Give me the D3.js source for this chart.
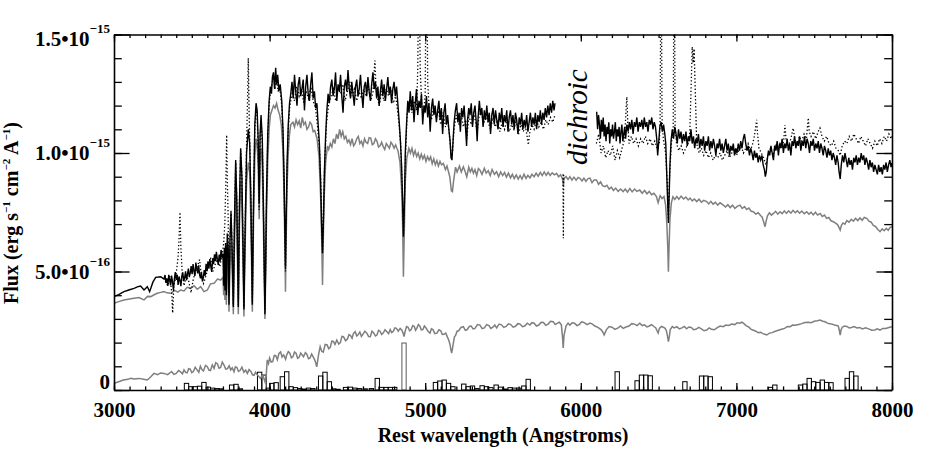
<!DOCTYPE html>
<html><head><meta charset="utf-8">
<script src="https://cdn.jsdelivr.net/npm/d3@7"></script>
<style>
html,body{margin:0;padding:0;background:#fff;}
svg{display:block;}
</style></head><body>
<svg id="chart" width="926" height="463"></svg>
<script>
// flux values are in units of 1e-17 erg s^-1 cm^-2 A^-1
const FLUX_UNIT = 1e-17;

// observed spectrum (solid black), blue arm
const obsBlue = [[3000,39.4],[3030,40.2],[3064,41.5],[3100,42.3],[3129,42.9],[3150,43.5],[3171,43.9],[3193,42.2],[3214,43.6],[3229,41.5],[3250,45.5],[3268,47.5],[3300,47.8],[3321,46.8],
[3328,48.5],[3334,45.2],[3340,47.1],[3346,43.9],[3352,48.6],[3358,46.1],[3364,44.2],[3370,48.3],[3376,45.6],[3382,42.1],[3388,46.9],[3394,49.8],[3400,46.5],[3406,48.7],[3412,44.3],[3418,47.9],[3424,46.2],[3430,43.8],[3436,48.2],[3442,49.6],[3448,45.9],[3454,47.4],[3460,50.1],[3466,46.3],[3472,48.8],[3478,51.2],[3484,47.6],[3490,49.4],[3496,52.3],[3502,48.9],[3508,53.1],[3514,50.2],[3520,48.1],[3526,53.8],[3532,51.4],[3538,49.2],[3544,52.6],[3550,48.7],[3556,47.1],[3562,49.9],[3568,45.8],[3574,47.3],[3580,50.6],[3586,48.2],[3592,53.2],[3598,50.1],[3604,54.3],[3610,51.2],[3616,55.1],[3622,52.3],[3628,49.8],[3634,55.6],[3640,53.1],[3646,57.2],[3652,54.4],[3658,58.3],[3664,55.2],[3670,52.8],[3676,57.1],[3682,54.2],[3688,59.1],[3694,55.8],[3700,57.5],
[3705,44],[3709,60],[3713,42],[3717,62],[3722,40],[3728,66],[3734,60],[3739,36],[3745,62],[3752,75],[3759,60],[3767,35],[3774,70],[3782,97],[3790,78],[3799,35],[3806,78],[3814,102],[3822,90],[3829,62],[3835,34],[3842,65],[3852,100],[3863,110],[3872,104],[3880,80],[3889,36],[3897,82],[3905,112],[3913,121],[3920,118],[3927,105],[3933,79],[3939,108],[3945,116],[3953,106],[3960,80],[3966,50],[3970,32],[3974,50],[3980,82],[3988,108],[3997,122],[4005,128],[4012,125],[4018,132],[4025,134],[4032,127],[4039,136],[4045,129],[4052,133],[4060,126],[4068,129],[4078,122],[4086,110],[4093,90],[4098,68],[4102,52],[4106,70],[4112,95],[4120,112],[4128,121],
[4136,125],[4144,130],[4152,123],[4160,133],[4168,126],[4176,120],[4184,129],[4192,132],[4200,124],[4208,127],[4216,131],[4224,118],[4232,128],[4240,133],[4248,125],[4256,122],[4264,129],[4272,134],[4280,123],[4288,126],[4296,119],[4304,121],[4312,112],[4320,104],[4328,88],[4334,70],[4340,57.7],[4346,72],[4352,92],[4360,107],[4368,118],[4376,125],[4384,121],[4392,128],[4400,131],[4408,124],[4416,127],[4424,134],[4432,122],[4440,129],[4448,126],[4456,133],[4464,124],[4472,117],[4480,128],[4488,131],[4496,126],[4504,135],[4512,127],[4520,123],[4528,130],[4536,125],[4544,120],[4552,128],[4560,131],[4568,124],[4576,127],[4584,133],[4592,125],[4600,119],[4608,128],[4616,130],[4624,124],[4632,132],[4640,126],[4648,122],[4656,129],[4664,134],[4672,127],[4680,130],[4688,123],[4696,128],[4704,120],[4712,126],[4720,131],[4728,124],[4736,129],[4744,122],[4752,127],[4760,132],[4768,125],[4776,128],[4784,121],[4792,127],[4800,130],[4808,124],[4816,128],[4824,121],[4832,114],[4840,106],[4848,95],[4855,80],[4860,64.7],[4866,78],[4872,100],[4880,112],[4888,122],[4896,117],
[4904,126],[4912,118],[4920,124],[4928,113],[4936,121],[4944,127],[4952,116],[4960,122],[4968,119],[4976,125],[4984,112],[4992,120],[5000,117],[5008,124],[5016,115],[5024,121],[5032,109],[5040,119],[5048,123],[5056,116],[5064,120],[5072,113],[5080,118],[5088,122],[5096,114],[5104,119],[5112,108],[5120,117],[5128,121],[5136,112],[5144,116],[5152,110],[5160,105],[5166,98],[5172,97],[5178,104],[5186,113],[5194,118],[5202,121],[5210,113],[5218,117],[5226,109],[5234,119],[5242,115],[5250,120],[5258,112],[5266,103],[5272,114],[5280,119],[5288,116],[5296,121],[5304,111],[5312,117],[5320,120],[5328,113],[5334,105],[5340,115],[5348,122],[5356,116],[5364,119],[5372,111],[5380,118],[5388,114],[5396,120],[5404,113],[5412,117],[5420,108],[5428,116],[5436,119],[5444,112],[5452,118],[5460,114],[5468,110],[5476,117],[5484,113],[5492,119],[5500,111],[5508,116],[5516,113],[5524,118],[5532,109],[5540,115],[5548,118],[5556,112],[5564,116],[5572,110],[5580,117],[5588,114],[5596,108],[5604,115],[5612,112],[5620,117],[5628,110],[5636,114],[5644,111],[5652,116],[5660,109],[5668,113],[5676,117],[5684,111],[5692,115],[5700,112],[5708,117],[5716,110],[5724,116],[5732,113],[5740,118],[5748,112],[5756,117],[5764,114],[5772,119],[5780,115],[5788,120],[5796,116],[5804,121],[5812,117],[5820,122],[5828,118],[5834,121]];

// observed spectrum (solid black), red arm
const obsRed = [[6102,117.4],[6108,110],[6114,116],[6120,112],[6126,106],[6132,114],[6138,109],[6144,115],[6150,107],[6156,112],[6162,105],[6168,111],[6174,108],[6180,113],[6186,104],[6192,110],[6198,107],[6204,112],[6210,106],[6216,109],[6222,113],[6228,105],[6234,110],[6240,107],[6246,111],[6252,104],[6258,109],[6264,112],[6270,105],[6276,108],[6282,111],[6288,106],[6296,112],[6304,109],[6312,113],[6320,110],[6328,114],[6336,108],[6344,113],[6352,111],[6360,115],[6368,109],[6376,113],[6384,111],[6392,114],[6400,110],[6408,115],[6416,111],[6424,113],[6432,109],[6440,114],[6448,112],[6456,115],[6464,110],[6472,113],[6480,111],[6488,106],[6494,99],[6500,104],[6508,111],[6516,113],[6524,109],[6532,112],[6540,108],[6546,104],[6553,90],[6559,78],[6563,70.5],[6567,80],[6573,95],[6580,105],[6588,110],[6596,106],[6604,111],[6612,108],[6620,104],[6628,110],[6636,106],[6644,109],[6652,104],[6660,108],[6668,105],[6676,109],[6684,103],[6692,107],[6700,105],[6708,110],[6716,104],[6724,107],[6732,102],[6740,106],[6748,104],[6756,108],[6764,102],[6772,106],[6780,103],[6788,107],[6796,101],[6804,105],[6812,103],[6820,107],[6828,101],[6836,105],[6844,102],[6852,106],[6860,103],[6868,99],[6876,104],[6884,102],[6892,106],[6900,101],[6908,104],[6916,100],[6924,103],[6932,106],[6940,101],[6948,104],[6956,99],[6964,103],[6972,101],[6980,104],[6988,99],[6996,102],[7004,100],[7012,104],[7020,101],[7028,105],[7036,102],[7044,106],[7052,108],[7060,104],[7068,101],[7076,103],[7084,99],[7092,102],[7100,100],[7108,97],[7116,101],[7124,98],[7132,100],[7140,96],[7148,99],[7156,97],[7164,99],[7172,95],[7180,93],[7186,90],[7192,92],[7198,97],[7206,101],[7214,99],[7222,103],[7230,100],[7238,97],[7246,103],[7254,101],[7262,105],[7270,99],[7278,104],[7286,102],[7294,106],[7302,100],[7310,104],[7318,102],[7326,106],[7334,101],[7342,104],[7350,99],[7358,105],[7366,103],[7374,107],[7382,102],[7390,105],[7398,103],[7406,107],[7414,101],[7422,105],[7430,103],[7438,107],[7446,102],[7454,106],[7462,104],[7470,100],[7478,105],[7486,103],[7494,106],[7502,101],[7510,104],[7518,102],[7526,105],[7534,100],[7542,104],[7550,102],[7558,99],[7566,103],[7574,101],[7582,98],[7590,102],[7598,99],[7606,101],[7614,97],[7622,100],[7630,98],[7638,95],[7646,99],[7654,96],[7660,92],[7667,89],[7674,95],[7682,99],[7690,96],[7698,100],[7706,97],[7714,94],[7722,98],[7730,95],[7738,97],[7746,93],[7754,98],[7762,96],[7770,99],[7778,95],[7786,98],[7794,96],[7802,100],[7810,97],[7818,99],[7826,95],[7834,98],[7842,96],[7850,93],[7858,97],[7866,94],[7874,96],[7882,92],[7890,95],[7898,93],[7906,91],[7914,95],[7922,92],[7930,94],[7938,91],[7946,95],[7954,93],[7962,96],[7970,92],[7978,95],[7986,97],[7994,94],[8000,95.8]];

// second observation (dotted black); null marks a gap
const altSpec = [[3330,46],[3345,44],[3360,48],[3372,40],[3377,32.5],[3384,44],[3395,47],[3405,52],[3412,56],[3418,64],[3424,75],[3430,60],[3438,50],[3450,44],[3465,48],[3480,46],[3495,41],[3510,47],[3525,50],[3540,53],[3550,55],[3560,49],[3575,45],[3590,48],[3605,52],[3620,56],[3635,50],[3650,53],[3665,55],[3680,52],[3695,57],[3705,62],[3712,70],[3718,85],[3724,107.6],[3728,90],[3734,72],[3739,40],[3745,62],[3752,76],[3759,60],[3767,36],[3774,70],[3782,96],[3790,79],[3799,36],[3806,78],[3814,101],[3822,90],[3829,62],[3835,35],[3842,66],[3852,104],[3858,122],[3863,140],[3868,118],[3874,100],[3880,80],[3889,37],[3897,80],[3905,110],[3913,118],[3920,116],[3927,100],[3933,76],[3939,106],[3945,114],[3953,104],[3960,78],[3966,50],[3970,34],[3974,50],[3980,80],[3988,106],[3997,120],[4005,126],[4015,129],[4025,132],[4035,127],[4045,131],[4055,126],[4065,128],[4078,120],[4086,108],[4093,88],[4098,66],[4102,50],[4106,68],[4112,92],[4120,110],[4130,120],[4145,125],[4160,122],[4175,128],[4190,124],[4205,127],[4220,121],[4235,126],[4250,123],[4265,128],[4280,122],[4295,119],[4310,110],[4322,100],[4332,82],[4340,58],[4346,72],[4354,95],[4365,112],[4380,121],[4395,124],[4410,127],[4425,122],[4440,128],[4455,125],[4470,129],[4485,122],[4500,126],[4515,130],[4530,124],[4545,127],[4560,122],[4575,126],[4590,123],[4605,127],[4620,124],[4635,128],[4650,122],[4665,126],[4672,134],[4677,139],[4682,130],[4690,124],[4705,120],[4720,126],[4735,122],[4750,127],[4765,124],[4780,126],[4795,121],[4810,124],[4822,118],[4832,112],[4842,104],[4850,90],[4856,76],[4861,66],[4866,78],[4874,100],[4884,116],[4895,121],[4905,120],[4915,117],[4930,122],[4945,118],[4952,135],[4960,185],[4968,135],[4978,120],[4990,116],[5000,125],[5008,200],[5016,130],[5026,118],[5040,114],[5055,120],[5070,115],[5085,118],[5100,112],[5115,117],[5130,111],[5145,114],[5158,106],[5168,99],[5175,100],[5185,110],[5200,116],[5215,112],[5230,117],[5245,111],[5260,114],[5268,106],[5280,116],[5295,112],[5310,117],[5325,113],[5333,108],[5345,115],[5360,118],[5375,112],[5390,116],[5405,113],[5420,110],[5435,115],[5450,111],[5465,114],[5480,109],[5495,113],[5510,110],[5525,114],[5540,109],[5555,112],[5570,110],[5585,114],[5600,108],[5615,112],[5630,109],[5645,111],[5655,107],[5663,103.4],[5670,108],[5685,112],[5700,110],[5715,114],[5730,111],[5745,113],[5760,110],[5775,114],[5790,112],[5805,115],[5820,113],[5834,116],
[5860,null],[5886,91],[5888,64],[5890,91],[5990,null],
[6100,104],[6115,108],[6130,100],[6145,103],[6160,98],[6175,101],[6190,99],[6205,103],[6220,97],[6235,101],[6250,98],[6265,102],[6278,105],[6286,112],[6292,120],[6296,123.7],[6302,112],[6310,104],[6325,107],[6340,104],[6355,106],[6370,103],[6385,106],[6400,104],[6415,107],[6430,104],[6445,106],[6460,103],[6475,105],[6490,102],[6505,104],[6510,115],[6516,200],[6522,115],[6530,106],[6545,100],[6555,88],[6563,72],[6570,90],[6582,104],[6594,110],[6600,200],[6606,112],[6615,104],[6630,101],[6645,103],[6660,100],[6675,102],[6690,104],[6700,108],[6710,130],[6716,144.8],[6722,138],[6728,144],[6736,125],[6745,104],[6760,100],[6775,102],[6790,99],[6805,101],[6820,98],[6835,100],[6850,97],[6865,99],[6880,98],[6895,100],[6910,97],[6925,99],[6940,101],[6955,98],[6970,100],[6985,102],[7000,99],[7015,101],[7030,103],[7045,100],[7060,102],[7075,104],[7090,101],[7105,104],[7115,107],[7124,111],[7130,114],[7136,108],[7145,102],[7160,100],[7175,98],[7190,95],[7205,100],[7220,102],[7235,99],[7250,103],[7265,101],[7280,104],[7295,102],[7305,106],[7312,111.8],[7320,105],[7335,103],[7350,106],[7365,110.5],[7375,106],[7390,103],[7405,107],[7420,105],[7435,108],[7450,106],[7458,112],[7462,114.8],[7468,109],[7480,107],[7495,109],[7510,106],[7525,109],[7537,110.5],[7550,107],[7565,105],[7580,107],[7595,104],[7610,103],[7625,105],[7640,102],[7655,101],[7667,99],[7680,103],[7695,105],[7710,104],[7725,107],[7740,105],[7755,108],[7770,106],[7785,104],[7800,107],[7815,105],[7830,103],[7845,106],[7860,104],[7875,102],[7890,105],[7905,103],[7920,106],[7935,104],[7950,107],[7965,105],[7980,108],[7995,106],[8000,107]];

// total model fit (upper grey)
const modelTotal = [[3000,36.6],[3030,37.3],[3064,38],[3100,38.4],[3129,38.7],[3160,39],[3193,38],[3215,39.5],[3236,39.4],[3258,40.2],[3278,40.8],[3300,41.2],[3321,41.5],[3340,41],[3364,40.8],[3390,42],[3410,41.3],[3428,42.2],[3450,41.8],[3470,43.3],[3493,42.9],[3515,44],[3535,42.5],[3557,43.6],[3578,41.5],[3600,42.2],[3620,44.8],[3643,45],[3665,46.8],[3685,46.4],[3700,47.5],
[3705,40],[3709,50],[3713,38],[3717,52],[3722,36],[3728,55],[3734,50],[3739,33],[3745,52],[3752,62],[3759,52],[3767,32],[3774,60],[3782,82],[3790,68],[3799,32],[3806,68],[3814,88],[3822,78],[3829,55],[3835,31],[3842,58],[3852,88],[3863,96],[3872,92],[3880,70],[3889,33],[3897,72],[3905,98],[3913,106],[3920,104],[3927,93],[3933,72],[3939,96],[3945,102],[3953,94],[3960,70],[3966,45],[3970,30],[3974,45],[3980,72],[3988,96],[3997,110],[4005,116],[4015,118],[4025,120],[4035,119],[4045,121],[4055,118],[4065,116],[4075,112],[4085,102],[4093,82],[4098,62],[4102,41.5],[4106,62],[4112,85],[4120,100],[4128,108],[4136,112],
[4150,113],[4160,111],[4170,114],[4180,112],[4190,113.5],[4200,110.5],[4210,115],[4220,112],[4230,113],[4240,110],[4250,111],[4260,113],[4270,112],[4280,109],[4290,109.5],[4305,106],[4318,98],[4330,78],[4336,60],[4340,44.3],[4344,60],[4350,80],[4360,96],[4372,103],[4380,101.5],[4390,104],[4400,102.5],[4410,106],[4420,104],[4430,108],[4440,106],[4450,110],[4460,107],[4470,109],[4480,106],[4490,107],[4500,104.5],[4510,105.5],[4520,103.5],[4530,106],[4540,103],[4550,104],[4560,106],[4570,107],[4580,104],[4590,105],[4600,103],[4610,106],[4620,104.5],[4630,104],[4640,106.5],[4650,106.3],[4660,103.5],[4670,104],[4680,106],[4690,105],[4700,102.5],[4710,103],[4720,104.5],[4730,102.7],[4740,101.5],[4750,104],[4760,103],[4770,102],[4780,104.5],[4790,103.5],[4800,102],[4810,103.4],[4818,102],[4825,101],[4838,96],[4848,85],[4855,70],[4860,47.8],[4866,68],[4872,88],[4882,98],[4895,102],[4905,100],[4915,102],[4925,99],[4935,101],[4945,98.5],[4955,100],[4965,97.5],[4975,99.5],[4985,97.5],[4995,99],[5005,96.5],[5015,98.5],[5025,97],[5035,98.4],[5045,95.5],[5055,97.5],[5065,95],[5075,96.8],[5085,94.5],[5095,96.5],[5105,95],[5117,95.6],[5130,93],[5140,94.5],[5150,92],[5158,90],[5168,84],[5175,83.7],[5182,88],[5195,94],[5205,92],[5220,94.5],[5232,92],[5245,94.2],[5255,92.5],[5267,90],[5280,94],[5290,92],[5300,93.5],[5310,91.5],[5320,93],[5331,90.5],[5342,93.5],[5352,92.8],[5365,91],[5380,93.5],[5392,91.5],[5405,92.5],[5418,90.5],[5430,93],[5445,91],[5459,92.1],[5472,90],[5485,92],[5498,90.5],[5510,91.8],[5522,89.8],[5535,91.5],[5548,89.5],[5560,91],[5572,89.2],[5585,90.8],[5598,89],[5610,90.5],[5622,89],[5635,91],[5648,89.3],[5660,90.6],[5673,89.5],[5686,91],[5700,90],[5713,91.5],[5726,90.2],[5740,91.8],[5752,90.5],[5765,92],[5778,90.6],[5790,91.8],[5803,90.5],[5816,91.6],[5830,90.8],[5844,91.4],[5857,90],[5870,90.8],[5880,89.5],[5885,88],[5888,86],[5892,89.3],[5905,90],[5918,88.8],[5930,90],[5943,88.6],[5956,89.8],[5970,88.5],[5983,89.7],[5994,89.3],[6008,88.2],[6020,89.4],[6033,88],[6046,89.2],[6059,89.4],[6072,87.5],[6085,88.6],[6101,88.6],[6114,86.8],[6127,87.8],[6140,86.2],[6155,85.8],[6168,86.4],[6182,84.8],[6196,85.6],[6210,84.2],[6224,85.2],[6240,83.8],[6256,84.8],[6272,83.7],[6286,84.8],[6300,83.5],[6315,85],[6330,83.6],[6345,84.8],[6360,83.8],[6379,84.4],[6394,83],[6410,84.2],[6425,82.8],[6440,83.8],[6455,82.4],[6470,83],[6486,81.6],[6497,79],[6510,82],[6522,80.8],[6535,81.6],[6545,78],[6553,70],[6559,60],[6563,49.9],[6567,60],[6573,72],[6582,79],[6592,81.5],[6604,80.4],[6617,81.6],[6630,80.5],[6645,81.8],[6660,80.6],[6675,81.4],[6690,80.2],[6702,81],[6716,79.8],[6730,80.6],[6745,79.5],[6760,80.5],[6775,79.2],[6790,80],[6809,79.5],[6822,78.5],[6836,79.6],[6850,78.4],[6865,79.2],[6880,78],[6895,79],[6916,78],[6930,77.2],[6945,78.2],[6960,77],[6975,78],[6990,76.6],[7005,77.5],[7023,78],[7037,76.6],[7052,77.4],[7066,76.2],[7080,76.8],[7095,75.4],[7109,75.2],[7124,74.2],[7140,74.8],[7155,73.6],[7165,73],[7175,71],[7184,68.9],[7192,71.5],[7200,73.5],[7212,74.8],[7225,73.8],[7238,74.5],[7252,75.4],[7266,74.2],[7280,75.2],[7294,74.4],[7308,75.6],[7322,74.5],[7336,75.6],[7350,74.6],[7364,75.8],[7378,74.8],[7392,75.6],[7406,74.6],[7420,75.5],[7436,74.4],[7452,75.2],[7466,74.2],[7480,75],[7494,73.9],[7508,75],[7522,73.8],[7538,74.5],[7552,73.2],[7566,73.8],[7580,72.4],[7594,72.8],[7608,71.4],[7623,71],[7637,70.4],[7650,69.8],[7660,68.5],[7667,67.5],[7675,69.5],[7685,70.5],[7697,70],[7710,71.5],[7724,70.8],[7738,72],[7752,71.2],[7766,72.4],[7780,71.5],[7794,72.6],[7808,71.6],[7822,72.8],[7838,72.4],[7852,71.2],[7866,70.8],[7880,69.4],[7894,69],[7908,67.8],[7923,66.8],[7937,68],[7950,67.2],[7963,68.2],[7976,67.4],[7988,68.6],[8000,68.9]];

// model component (lower grey)
const modelComp = [[3000,2.8],[3030,3.5],[3060,4.2],[3090,4.5],[3107,4.9],[3130,4.6],[3160,4.9],[3190,4.5],[3214,4.2],[3235,5.5],[3257,7],[3280,6.5],[3300,7.2],[3321,7],[3345,6.5],[3370,7.8],[3385,6.6],[3400,7],[3415,8.2],[3428,7.7],[3440,6.8],[3450,8.5],[3460,7.4],[3470,7.2],[3480,9],[3490,8.8],[3500,7.3],[3510,7.8],[3522,9.6],[3535,8.4],[3545,7.5],[3555,10],[3565,8.6],[3575,8],[3588,10.4],[3600,9.8],[3610,8.4],[3620,8.2],[3632,10.6],[3643,9.1],[3654,11.5],[3665,11],[3675,9.2],[3685,9.5],[3696,11.8],[3707,10.5],[3718,8.8],[3730,9],[3740,10.2],[3750,8.5],[3760,9.4],[3771,7.7],[3780,9.8],[3790,9.5],[3800,7.8],[3810,8.2],[3822,9.6],[3835,7.5],[3846,8.4],[3857,7],[3868,8.6],[3880,7.8],[3890,6.4],[3900,6.2],[3910,7.5],[3920,6.5],[3932,5.6],[3942,4.9],[3952,6.2],[3960,5.5],[3970,3.5],[3978,6],[3985,12.7],[3993,11.2],[4000,13.5],[4010,11.8],[4020,12],[4030,14.6],[4040,14.5],[4050,12.8],[4060,15.4],[4071,16.1],[4080,13.9],[4090,14.8],[4103,13],[4110,14.8],[4120,16.2],[4130,15.5],[4140,13.6],[4150,14],[4160,16],[4170,15.5],[4180,13.4],[4190,13.8],[4200,15.6],[4218,14],[4230,15.8],[4240,15],[4250,13.2],[4260,13.5],[4270,15.2],[4280,14],[4292,12.4],[4303,9.8],[4315,15],[4325,18.3],[4335,16.4],[4345,16],[4357,19.2],[4370,19],[4380,17.4],[4390,18],[4400,20.6],[4410,20.5],[4420,19.2],[4432,21.1],[4444,19.4],[4455,20],[4465,22.6],[4475,22.5],[4488,20.8],[4500,21.5],[4510,23.4],[4520,23],[4530,21.8],[4539,23.9],[4550,24.6],[4560,22.8],[4570,23.4],[4580,24.5],[4590,22.6],[4600,23.5],[4612,24.8],[4625,24],[4636,22.6],[4647,22.5],[4658,24.8],[4670,24],[4680,22.8],[4690,23.2],[4700,25.2],[4710,24.8],[4720,23.4],[4730,24],[4742,25.4],[4754,24.6],[4765,23.8],[4775,25.5],[4785,24.2],[4795,24.8],[4805,26.2],[4815,26],[4827,24.8],[4839,26],[4850,25.2],[4858,24],[4864,22.5],[4872,25],[4880,26.8],[4890,26.5],[4900,25],[4910,25.5],[4920,27.2],[4930,26.8],[4938,25.2],[4946,26],[4956,27.6],[4965,27],[4975,25.4],[4985,25.5],[4995,27],[5005,26.2],[5018,24.8],[5031,24],[5040,25.8],[5050,25.5],[5062,23.8],[5075,24],[5088,25.4],[5100,25],[5110,23.4],[5120,23.5],[5132,24],[5145,22],[5153,20.8],[5160,19],[5165,17],[5170,15.6],[5175,17.4],[5180,19.5],[5188,22.4],[5195,23],[5205,24.8],[5215,25],[5230,26.4],[5245,26.7],[5258,25.2],[5270,25.5],[5283,26.8],[5295,27],[5308,25.8],[5320,26],[5336,27.6],[5352,27.4],[5366,25.9],[5380,26.2],[5395,27.6],[5410,27.2],[5422,26],[5435,26.5],[5447,27.4],[5459,26.2],[5475,27.8],[5490,27.5],[5505,26.4],[5520,26.8],[5535,27.9],[5550,27.6],[5565,26.5],[5580,26.9],[5595,28],[5610,27.8],[5625,26.7],[5640,27],[5656,28.2],[5673,27.4],[5686,28.4],[5700,28.2],[5715,27],[5730,27.4],[5745,28.6],[5760,28.5],[5775,27.3],[5790,27.8],[5806,29],[5823,28.8],[5836,27.6],[5850,28.2],[5862,28.6],[5875,27.5],[5883,22],[5887,17.7],[5892,23],[5905,27],[5918,28.2],[5930,27.4],[5945,28.4],[5960,28.2],[5975,27.2],[5990,27.6],[6005,28.8],[6020,28.5],[6040,27.6],[6059,28.2],[6075,27.8],[6090,27],[6110,26.4],[6130,25.5],[6140,24.6],[6150,23.2],[6158,24.4],[6165,25.5],[6182,26.8],[6200,26.5],[6220,25.6],[6240,26.2],[6256,27],[6272,26],[6290,26.6],[6310,27],[6328,28],[6345,27.8],[6362,27.2],[6379,28.2],[6395,27.2],[6410,27.5],[6425,26.6],[6440,27],[6455,27.6],[6470,26.8],[6482,26.2],[6490,25],[6497,24],[6505,26],[6518,26.8],[6530,26.5],[6542,26],[6550,25],[6557,22.8],[6563,20.4],[6569,22.6],[6575,25.5],[6588,26.8],[6600,26.2],[6617,26.7],[6633,25.8],[6650,26.2],[6665,26.8],[6680,25.8],[6695,26.6],[6710,26.4],[6725,25.4],[6740,25.6],[6758,26.4],[6775,25.8],[6792,25],[6809,25.3],[6825,26.2],[6840,25.6],[6858,25.4],[6875,26.2],[6895,27],[6916,26.7],[6932,27.4],[6950,27.2],[6970,27.8],[6990,27.6],[7005,28.4],[7023,28.2],[7035,28.6],[7045,28.2],[7062,27.2],[7080,26.5],[7095,25.6],[7110,25.2],[7125,24.8],[7140,24.2],[7155,24.4],[7170,23.8],[7183,23.5],[7195,23.2],[7212,24],[7230,24.2],[7250,24.8],[7270,25.2],[7290,25.6],[7310,26],[7328,26.8],[7345,26.7],[7362,27.4],[7380,27.3],[7400,27.6],[7420,28],[7440,28.5],[7460,28.6],[7480,28.4],[7500,29],[7520,29.2],[7538,29.5],[7555,29],[7570,28.8],[7585,28.2],[7600,28],[7615,27.8],[7630,27.4],[7645,27.2],[7655,27],[7662,25],[7667,23.2],[7672,25.2],[7680,26.5],[7695,27],[7710,26.8],[7725,26.2],[7740,26.4],[7757,26.8],[7774,26.2],[7792,26.4],[7810,25.8],[7830,26.2],[7850,25.8],[7870,25.2],[7890,25.3],[7905,25.8],[7923,25.3],[7940,26],[7960,26],[7980,26.4],[8000,26.7]];

// residual histogram bins (left edge in Angstroms, height in flux units)
const BIN_WIDTH = 28;
const barStart  = [3452,3480,3508,3536,3564,3592,3620,3648,3676,3742,3770,3798,3922,3950,3978,4000,4028,4068,4096,4124,4152,4180,4208,4236,4264,4314,4342,4370,4398,4426,4474,4506,4534,4562,4600,4640,4678,4706,4734,4762,4790,5052,5080,5108,5136,5164,5234,5262,5290,5318,5352,5380,5408,5442,5470,5500,5532,5560,5588,5620,5648,6220,6348,6376,6404,6432,6655,6762,6790,6818,7205,7233,7398,7426,7454,7482,7510,7538,7566,7594,7698,7726,7754];
const barHeight = [2.8,1.4,1.4,1.6,3.2,1.2,0.8,0.6,0.5,2.1,2.4,0.5,7.5,6.3,0.8,2.8,3.1,5.6,7.7,1.4,1.0,0.6,0.4,0.8,0.6,5.9,7.5,3.5,0.5,0.3,1.1,1.2,0.8,0.6,0.5,0.6,4.9,1.1,1.1,1.1,1.1,3.2,3.8,4.2,2.8,1.4,2.5,1.4,1.7,0.6,1.8,1.4,1.0,2.1,1.2,0.4,1.0,0.8,0.8,1.7,4.5,7.7,3.9,6.3,6.3,6.0,3.5,5.9,5.9,5.6,1.1,2.1,2.1,2.5,4.9,3.5,3.2,4.2,3.2,3.1,4.9,7.7,5.9];
const greyBars  = [[4850,19.8]];

// axis ticks and labels
const xMajor = [3000,4000,5000,6000,7000,8000];
const xMinor = d3.range(3000,8001,100);
const yMajor = [0,5e-16,1e-15,1.5e-15];
const yMinor = d3.range(0,16).map(i=>i*1e-16);
const yTickMantissa = ["0","5.0\u202210","1.0\u202210","1.5\u202210"];
const yTickExponent = ["","\u221216","\u221215","\u221215"];

const FONT = "'Liberation Serif','Times New Roman',serif";
const GREY = "#7f7f7f";
const svg = d3.select("#chart");
const M = {left:114,right:892,top:34.5,bottom:390};
const x = d3.scaleLinear().domain([3000,8000]).range([M.left,M.right]);
const y = d3.scaleLinear().domain([0,1.5e-15]).range([M.bottom,M.top]);
const line = d3.line().defined(d=>d[1]!=null).x(d=>x(d[0])).y(d=>y(d[1]*FLUX_UNIT));

svg.append("defs").append("clipPath").attr("id","clip").append("rect")
  .attr("x",M.left).attr("y",M.top).attr("width",M.right-M.left).attr("height",M.bottom-M.top);
const g = svg.append("g").attr("clip-path","url(#clip)");

// histogram
g.selectAll("rect.bar").data(barStart.map((s,i)=>[s,barHeight[i]])).join("rect")
  .attr("class","bar")
  .attr("x",d=>x(d[0])).attr("width",d=>x(d[0]+BIN_WIDTH)-x(d[0]))
  .attr("y",d=>y(d[1]*FLUX_UNIT)).attr("height",d=>y(0)-y(d[1]*FLUX_UNIT))
  .attr("fill","none").attr("stroke","#000").attr("stroke-width",1);
g.selectAll("rect.gbar").data(greyBars).join("rect")
  .attr("class","gbar")
  .attr("x",d=>x(d[0])).attr("width",d=>x(d[0]+BIN_WIDTH)-x(d[0]))
  .attr("y",d=>y(d[1]*FLUX_UNIT)).attr("height",d=>y(0)-y(d[1]*FLUX_UNIT))
  .attr("fill","none").attr("stroke",GREY).attr("stroke-width",1.3);

// lines
g.append("path").attr("d",line(modelComp)).attr("fill","none").attr("stroke",GREY).attr("stroke-width",1.5);
g.append("path").attr("d",line(modelTotal)).attr("fill","none").attr("stroke",GREY).attr("stroke-width",1.5);
g.append("path").attr("d",line(obsBlue)).attr("fill","none").attr("stroke","#000").attr("stroke-width",1.4);
g.append("path").attr("d",line(obsRed)).attr("fill","none").attr("stroke","#000").attr("stroke-width",1.4);
g.append("path").attr("d",line(altSpec)).attr("fill","none").attr("stroke","#000").attr("stroke-width",1.3).attr("stroke-dasharray","1.3,2.2");

// axes
function styleAxis(sel, keepDomain){
  sel.attr("font-family",FONT);
  sel.selectAll(".tick line").attr("stroke","#000").attr("stroke-width",1.3);
  if(keepDomain) sel.select(".domain").attr("stroke","#000").attr("stroke-width",1.6);
  else sel.select(".domain").remove();
}
const bottom = svg.append("g").attr("transform",`translate(0,${M.bottom})`)
  .call(d3.axisBottom(x).tickValues(xMajor).tickSize(-7).tickSizeOuter(0).tickPadding(12).tickFormat(d3.format("d")));
styleAxis(bottom,true);
bottom.selectAll("text").attr("font-size",21).attr("font-weight","bold").attr("fill","#000");
styleAxis(svg.append("g").attr("transform",`translate(0,${M.bottom})`)
  .call(d3.axisBottom(x).tickValues(xMinor).tickSize(-3.6).tickFormat("")),false);
styleAxis(svg.append("g").attr("transform",`translate(0,${M.top})`)
  .call(d3.axisTop(x).tickValues(xMajor).tickSize(-7).tickSizeOuter(0).tickFormat("")),true);
styleAxis(svg.append("g").attr("transform",`translate(0,${M.top})`)
  .call(d3.axisTop(x).tickValues(xMinor).tickSize(-3.6).tickFormat("")),false);
styleAxis(svg.append("g").attr("transform",`translate(${M.left},0)`)
  .call(d3.axisLeft(y).tickValues(yMajor).tickSize(-15.6).tickSizeOuter(0).tickFormat("")),true);
styleAxis(svg.append("g").attr("transform",`translate(${M.left},0)`)
  .call(d3.axisLeft(y).tickValues(yMinor).tickSize(-7.8).tickFormat("")),false);
styleAxis(svg.append("g").attr("transform",`translate(${M.right},0)`)
  .call(d3.axisRight(y).tickValues(yMajor).tickSize(-15.6).tickSizeOuter(0).tickFormat("")),true);
styleAxis(svg.append("g").attr("transform",`translate(${M.right},0)`)
  .call(d3.axisRight(y).tickValues(yMinor).tickSize(-7.8).tickFormat("")),false);

// y tick labels
svg.append("g").selectAll("text").data(yMajor).join("text")
  .attr("x",110).attr("y",d=>Math.min(Math.max(y(d),39),382))
  .attr("dy","0.35em").attr("text-anchor","end")
  .attr("font-family",FONT).attr("font-weight","bold").attr("font-size",21).attr("fill","#000")
  .each(function(d,i){
    const t=d3.select(this);
    t.append("tspan").text(yTickMantissa[i]);
    if(yTickExponent[i]) t.append("tspan").attr("dy",-13).attr("font-size",13).text(yTickExponent[i]);
  });

// axis titles
svg.append("text").attr("x",503).attr("y",442).attr("text-anchor","middle")
  .attr("font-family",FONT).attr("font-weight","bold").attr("font-size",20).attr("fill","#000")
  .text("Rest wavelength (Angstroms)");
const yt = svg.append("text").attr("transform","translate(18,213) rotate(-90)").attr("text-anchor","middle")
  .attr("font-family",FONT).attr("font-weight","bold").attr("font-size",20).attr("fill","#000");
yt.append("tspan").text("Flux (erg s");
yt.append("tspan").attr("dy",-8).attr("font-size",11).text("\u22121");
yt.append("tspan").attr("dy",8).text(" cm");
yt.append("tspan").attr("dy",-8).attr("font-size",11).text("\u22122");
yt.append("tspan").attr("dy",8).text(" A");
yt.append("tspan").attr("dy",-8).attr("font-size",11).text("\u22121");
yt.append("tspan").attr("dy",8).text(")");

// annotation
svg.append("text").attr("transform","translate(587,165) rotate(-90)")
  .attr("font-family",FONT).attr("font-style","italic").attr("font-size",29).attr("fill","#000")
  .text("dichroic");
</script>
</body></html>
